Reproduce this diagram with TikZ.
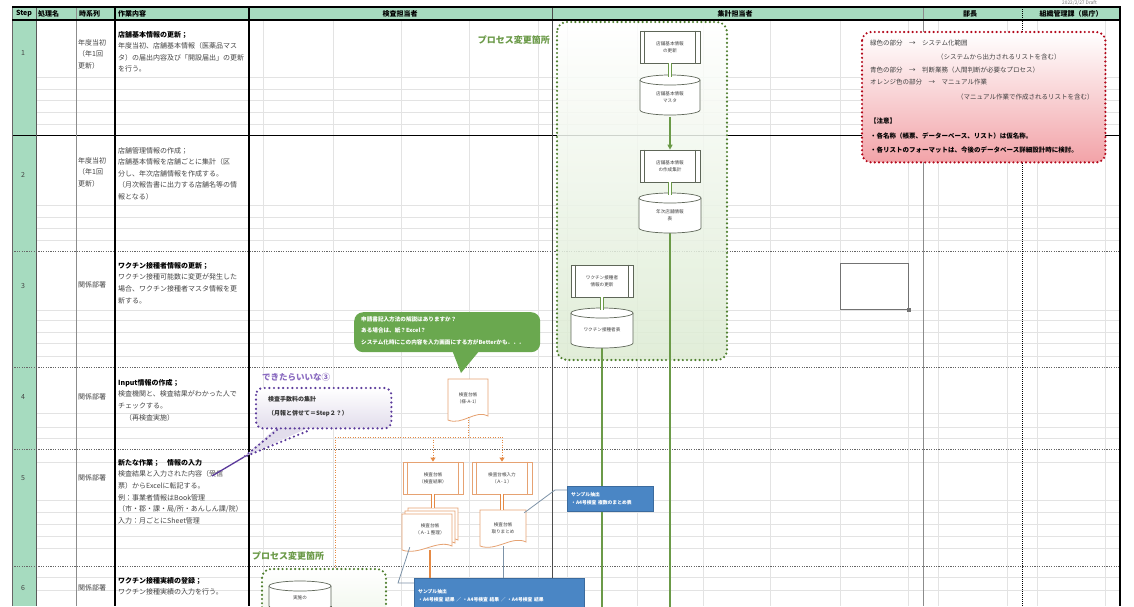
\documentclass[tikz,border=0pt]{standalone}
\usepackage{fontspec}
\setmainfont{Noto Sans CJK JP}
\usetikzlibrary{calc,arrows.meta}
\definecolor{mint}{HTML}{A6DBBF}
\definecolor{gridl}{HTML}{E3E3E3}
\definecolor{fgreen}{HTML}{6B9A48}
\definecolor{dgreen}{HTML}{4F7F2F}
\definecolor{lgreen}{HTML}{DCEBD2}
\definecolor{shpgray}{HTML}{5E6658}
\definecolor{redd}{HTML}{B3081A}
\definecolor{pinkf}{HTML}{F2A3A8}
\definecolor{purp}{HTML}{5B3A9B}
\definecolor{purpt}{HTML}{8A6BC0}
\definecolor{lpurp}{HTML}{E2DDEC}
\definecolor{orng}{HTML}{E58A45}
\definecolor{orngl}{HTML}{E6A272}
\definecolor{blu}{HTML}{4A86C5}
\definecolor{bluline}{HTML}{7D93A8}
\definecolor{bubg}{HTML}{6AA84F}
\definecolor{txtg}{HTML}{444444}
\tikzset{
 gridline/.style={draw=gridl, line width=0.6pt},
 rowdash/.style={draw=black!60, line width=0.8pt, dash pattern=on 1.2pt off 1.2pt},
 hdr/.style={font=\fontsize{7}{8}\selectfont\bfseries, inner sep=0},
 celltxt/.style={anchor=north west, align=left, inner sep=0, text=txtg, font=\fontsize{7}{11.6}\selectfont},
 timetxt/.style={anchor=west, inner sep=0, text=txtg, font=\fontsize{7}{11.6}\selectfont},
 stepnum/.style={font=\fontsize{7}{8}\selectfont, text=txtg, inner sep=0},
 shp/.style={draw=shpgray, line width=0.7pt, fill=white},
 shpo/.style={draw=orngl, line width=0.8pt, fill=white},
 tinytxt/.style={font=\fontsize{4.6}{7}\selectfont, text=black!75, align=center, inner sep=0},
 dblg/.style={draw=fgreen, double=white, double distance=1.6pt, line width=0.9pt},
 dblo/.style={draw=orng, double=white, double distance=1.6pt, line width=0.9pt},
 gline/.style={draw=fgreen, line width=1.3pt},
 gdots/.style={draw=dgreen, line width=2.4pt, dash pattern=on 0pt off 4.2pt, line cap=round},
 rdots/.style={draw=redd, line width=2.4pt, dash pattern=on 0pt off 4.2pt, line cap=round},
 pdots/.style={draw=purp, line width=2.4pt, dash pattern=on 0pt off 4.6pt, line cap=round},
 odots/.style={draw=orng, line width=0.9pt, dash pattern=on 1pt off 1.5pt},
 plabel/.style={text=fgreen, font=\fontsize{9}{10}\selectfont\bfseries, inner sep=0},
 bluebox/.style={fill=blu, draw=blu!80!black, line width=0.4pt, text=white, font=\fontsize{4.8}{8}\selectfont\bfseries, align=left, anchor=north west, inner xsep=4pt, inner ysep=3pt},
 callout/.style={draw=bluline, line width=0.8pt},
 redtxt/.style={anchor=west, inner sep=0, text=black!75, font=\fontsize{6.5}{8}\selectfont},
 redbold/.style={anchor=west, inner sep=0, text=black, font=\fontsize{6.5}{8}\selectfont\bfseries},
 bubtxt/.style={anchor=north west, align=left, inner sep=0, text=white, font=\fontsize{5.6}{11.5}\selectfont\bfseries},
}
\newcommand\predef[7]{% name, style, cx, cy, w, h, text
  \node[#2, tinytxt, minimum width=#5pt, minimum height=#6pt] (#1) at (#3,#4) {#7};
  \draw[#2] ($(#1.north west)+(5,0)$) -- ($(#1.south west)+(5,0)$)
            ($(#1.north east)+(-5,0)$) -- ($(#1.south east)+(-5,0)$);
}
\newcommand\cylshape[7]{% name, style, cx, cy, w, h, text
  \pgfmathsetmacro\cxl{#3-#5/2}%
  \pgfmathsetmacro\cxr{#3+#5/2}%
  \pgfmathsetmacro\cyt{#4-#6/2+5}%
  \pgfmathsetmacro\cyb{#4+#6/2-5}%
  \pgfmathsetmacro\crx{#5/2}%
  \filldraw[#2] (\cxl,\cyt) -- (\cxl,\cyb) arc[start angle=180,end angle=0,x radius=\crx,y radius=5] -- (\cxr,\cyt) arc[start angle=0,end angle=-180,x radius=\crx,y radius=5] -- cycle;
  \draw[#2] (\cxl,\cyt) arc[start angle=180,end angle=0,x radius=\crx,y radius=5];
  \node[tinytxt, minimum width=#5pt, minimum height=#6pt] (#1) at (#3,#4+2) {#7};
}
\newcommand\docshape[5]{% style, x1, y1, x2, y2
  \pgfmathsetmacro\docw{#4-#2}%
  \filldraw[#1] (#2,#3) -- (#4,#3) -- (#4,#5-4)
     .. controls (#4-0.3*\docw,#5-11) and (#2+0.35*\docw,#5+6) .. (#2,#5) -- cycle;
}
\begin{document}
\begin{tikzpicture}[x=1pt,y=-1pt]
\useasboundingbox (0,0) rectangle (1134,606);
\clip (0,0) rectangle (1134,606);
\fill[white] (0,0) rectangle (1134,606);

% ---------- sheet background ----------
\fill[mint] (12,7) rectangle (1120,20);
\fill[mint] (12,20) rectangle (36,606);
\foreach \y in {77,89,100,112,124,205,217,228,240,310,320,332,343,356,413,427,438,462,500,512,524,536,548,577,590}
  \draw[gridline] (36,\y) -- (1120,\y);
\foreach \x in {263,333,401,469,538,567,637,703,770,840,908,938,1007,1037,1105}
  \draw[gridline] (\x,20) -- (\x,606);
\draw[black, line width=0.8pt] (12,135) -- (1120,135);
\foreach \y in {251,367,449,566}
  \draw[rowdash] (12,\y) -- (1120,\y);
\draw[black!60, line width=0.6pt] (12,7) -- (12,606);
\draw[black!65, line width=0.8pt] (36,7) -- (36,606);
\draw[black!45, line width=0.8pt] (76,7) -- (76,606);
\draw[black, line width=1.2pt] (115,7) -- (115,606);
\draw[black, line width=2pt] (249,7) -- (249,606);
\draw[black!70, line width=1pt] (552,7) -- (552,606);
\draw[black!45, line width=1pt] (923,7) -- (923,606);
\draw[black, line width=0.6pt, dash pattern=on 1pt off 1pt] (1022,7) -- (1022,606);
\draw[black, line width=2pt] (1120,6) -- (1120,606);
\draw[black, line width=2pt] (12,7) -- (1120,7);
\draw[black, line width=1.5pt] (12,20) -- (1120,20);

\node[anchor=north west, inner sep=0, text=black!55, font=\fontsize{4.8}{5}\selectfont] (date) at (1062,0) {2022/2/27 Draft};

% ---------- header ----------
\node[hdr] (hstep) at (24,13.5) {Step};
\node[hdr, anchor=west] (hname) at (38,13.5) {処理名};
\node[hdr, anchor=west] (htime) at (79,13.5) {時系列};
\node[hdr, anchor=west] (hwork) at (118,13.5) {作業内容};
\node[hdr] (hinsp) at (400,13.5) {検査担当者};
\node[hdr] (hsum) at (735,13.5) {集計担当者};
\node[hdr] (hboss) at (970,13.5) {部長};
\node[hdr] (hgov) at (1071,13.5) {組織管理課（県庁）};

% ---------- step numbers ----------
\node[stepnum] (s1) at (23,53) {1};
\node[stepnum] (s2) at (23,175) {2};
\node[stepnum] (s3) at (23,286) {3};
\node[stepnum] (s4) at (23,397) {4};
\node[stepnum] (s5) at (23,478) {5};
\node[stepnum] (s6) at (23,588) {6};

% ---------- time column ----------
\node[celltxt] (t1) at (78,39) {年度当初\\（年1回\\更新）};
\node[celltxt] (t2) at (78,157) {年度当初\\（年1回\\更新）};
\node[timetxt] (t3) at (78,285) {関係部署};
\node[timetxt] (t4) at (78,397) {関係部署};
\node[timetxt] (t5) at (78,478) {関係部署};
\node[timetxt] (t6) at (78,588) {関係部署};

% ---------- work column ----------
\node[celltxt] (w1) at (118,31) {\textbf{\color{black}店舗基本情報の更新；}\\年度当初、店舗基本情報（医薬品マス\\タ）の届出内容及び「開設届出」の更新\\を行う。};
\node[celltxt] (w2) at (118,147) {店舗管理情報の作成；\\店舗基本情報を店舗ごとに集計（区\\分し、年次店舗情報を作成する。\\（月次報告書に出力する店舗名等の情\\報となる）};
\node[celltxt] (w3) at (118,262) {\textbf{\color{black}ワクチン接種者情報の更新；}\\ワクチン接種可能数に変更が発生した\\場合、ワクチン接種者マスタ情報を更\\新する。};
\node[celltxt] (w4) at (118,379) {\textbf{\color{black}Input情報の作成；}\\検査機関と、検査結果がわかった人で\\チェックする。\\　（再検査実施）};
\node[celltxt] (w5) at (118,459) {\textbf{\color{black}新たな作業；　情報の入力}\\検査結果と入力された内容（受信\\票）からExcelに転記する。\\例：事業者情報はBook管理\\（市・郡・課・局/所・あんしん課/院）\\入力：月ごとにSheet管理};
\node[celltxt] (w6) at (118,577) {\textbf{\color{black}ワクチン接種実績の登録；}\\ワクチン接種実績の入力を行う。};

% ---------- green process-change area ----------
\shade[top color=white, bottom color=lgreen, opacity=0.85, rounded corners=10pt] (557,22) rectangle (727,360);
\draw[gdots, rounded corners=10pt] (557,22) rectangle (727,360);
\node[plabel, anchor=east] (pl1) at (550,40) {プロセス変更箇所};

\coordinate (g1end) at (670,620);
\coordinate (g2end) at (602,620);
\draw[gline] (670,230) -- (g1end);
\draw[gline] (602,340) -- (g2end);

\predef{p1}{shp}{670}{47}{60}{32}{店舗基本情報\\の更新}
\cylshape{c1}{shp}{670}{95}{60}{40}{店舗基本情報\\マスタ}
\predef{p2}{shp}{670}{166}{60}{32}{店舗基本情報\\の作成集計}
\cylshape{c2}{shp}{670}{213}{62}{40}{年次店舗情報\\表}
\predef{p3}{shp}{602}{281}{62}{32}{ワクチン接種者\\情報の更新}
\cylshape{c3}{shp}{602}{328}{62}{40}{ワクチン接種者表}
\draw[dblg] (p1.south) -- (c1.north);
\draw[gline, -{Triangle[length=5pt,width=5pt]}] (c1.south) -- (p2.north);
\draw[dblg] (p2.south) -- (c2.north);
\draw[dblg] (p3.south) -- (c3.north);

% ---------- red note box ----------
\node[top color=white, bottom color=pinkf, rounded corners=9pt, minimum width=243pt, minimum height=130pt, anchor=north west, inner sep=0] (note) at (862,32) {};
\draw[rdots, rounded corners=9pt] (note.north west) rectangle (note.south east);
\node[redtxt] (r1) at (870,43) {緑色の部分　→　システム化範囲};
\node[redtxt] (r2) at (937,57) {（システムから出力されるリストを含む）};
\node[redtxt] (r3) at (870,70) {青色の部分　→　判断業務（人間判断が必要なプロセス）};
\node[redtxt] (r4) at (870,82) {オレンジ色の部分　→　マニュアル作業};
\node[redtxt] (r5) at (957,97) {（マニュアル作業で作成されるリストを含む）};
\node[redbold] (r6) at (870,121) {【注意】};
\node[redbold] (r7) at (870,136) {・各名称（帳票、データーベース、リスト）は仮名称。};
\node[redbold] (r8) at (870,150) {・各リストのフォーマットは、今後のデータベース詳細設計時に検討。};

% ---------- empty box ----------
\node[draw=black!55, line width=1.2pt, minimum width=68pt, minimum height=46pt, anchor=north west, inner sep=0] (ebox) at (840,263) {};
\fill[black!55] ($(ebox.south east)+(-1.8,-1.8)$) rectangle ++(3.6,3.6);

% ---------- green speech bubble ----------
\node[fill=bubg, rounded corners=9pt, minimum width=186pt, minimum height=40pt, anchor=north west, inner sep=0] (bub) at (354,312) {};
\fill[bubg] (452,350) -- (461,373) -- (480,350) -- cycle;
\node[bubtxt] (bubt) at (361,316) {申請書記入方法の解説はありますか？\\ある場合は、紙？Excel？\\システム化時にこの内容を入力画面にする方がBetterかも．．．};

% ---------- orange manual part ----------
\coordinate (oj) at (468,437);
\coordinate (ojl) at (335,437);
\coordinate (ojr) at (502,437);
\coordinate (oja) at (433,437);
\coordinate (oend) at (335,620);
\docshape{shpo}{448}{379}{488}{420}
\node[tinytxt, minimum width=40pt, minimum height=38pt] (doc1) at (468,398) {検査台帳\\（様-A-1）};
\draw[odots] (doc1.south) -- (oj);
\draw[odots] (ojl) -- (ojr);
\draw[odots] (ojl) -- (oend);

\predef{pa}{shpo}{433}{478}{60}{32}{検査台帳\\（検査結果）}
\predef{pb}{shpo}{502}{478}{60}{32}{検査台帳入力\\（Ａ-１）}
\draw[odots, -{Triangle[length=4pt,width=5pt]}] (oja) -- (pa.north);
\draw[odots, -{Triangle[length=4pt,width=5pt]}] (ojr) -- (pb.north);

\docshape{shpo}{408}{508}{458}{544}
\docshape{shpo}{405}{511}{455}{547}
\docshape{shpo}{402}{514}{452}{550}
\node[tinytxt, minimum width=56pt, minimum height=42pt] (mdoc) at (430,529) {検査台帳\\（Ａ-１整理）};
\docshape{shpo}{480}{510}{526}{546}
\node[tinytxt, minimum width=46pt, minimum height=36pt] (doc2) at (503,528) {検査台帳\\取りまとめ};
\draw[dblo] (pa.south) -- (mdoc.north -| pa.south);
\draw[dblo] (pb.south) -- (doc2.north -| pb.south);

% ---------- blue boxes ----------
\node[bluebox, text width=78pt, minimum height=25pt] (bl1) at (567,486) {サンプル抽出\\・A4号検査 複数のまとめ表};
\node[bluebox, text width=162pt, minimum height=34pt] (bl2) at (414,578) {サンプル抽出\\・A4号検査 結果 ／ ・A4号検査 結果 ／ ・A4号検査 結果};
\draw[draw=orng, line width=1.2pt] (mdoc.south) -- (mdoc.south |- bl2.north);
\draw[draw=bluline, line width=1pt] (doc2.south) -- (doc2.south |- bl2.north);
\draw[callout] ($(bl1.north west)+(0,4)$) -- ++(-12,0) -- ($(doc2.north east)+(-2,3)$);
\draw[callout] ($(bl2.north west)+(0,5)$) -- ++(-16,0) -- ($(mdoc.south west)+(8,-3)$);

% ---------- purple wish callout ----------
\node[text=purpt, font=\fontsize{8.5}{10}\selectfont\bfseries, anchor=west, inner sep=0] (wish) at (262,377) {できたらいいな③};
\node[top color=white, bottom color=lpurp, rounded corners=7pt, minimum width=135pt, minimum height=40pt, anchor=north west, inner sep=0] (wbox) at (256,388) {};
\fill[lpurp] (277,427) -- (244,457) -- (310,427) -- cycle;
\draw[pdots, rounded corners=7pt] (wbox.north west) rectangle (wbox.south east);
\draw[pdots] (277,430) -- (244,457) -- (310,430);
\coordinate (wtip) at (212,476);
\draw[purp, line width=1.3pt] (244,457) -- (wtip);
\node[anchor=west, inner sep=0, text=black!80, font=\fontsize{6}{8}\selectfont\bfseries] (wt1) at (268,399) {検査手数料の集計};
\node[anchor=west, inner sep=0, text=black!80, font=\fontsize{6}{8}\selectfont\bfseries] (wt2) at (268,414) {（月報と併せて＝Step２？）};

% ---------- second process-change area ----------
\node[plabel, anchor=west] (pl2) at (252,556) {プロセス変更箇所};
\shade[top color=white, bottom color=lgreen!60, rounded corners=9pt] (262,569) rectangle (386,640);
\draw[gdots, rounded corners=9pt] (262,569) rectangle (386,640);
\cylshape{c4}{shp}{300}{596}{62}{30}{実施の}
\draw[shp, fill=none] (269,606) -- (269,612) (331,606) -- (331,612);
\end{tikzpicture}
\end{document}
